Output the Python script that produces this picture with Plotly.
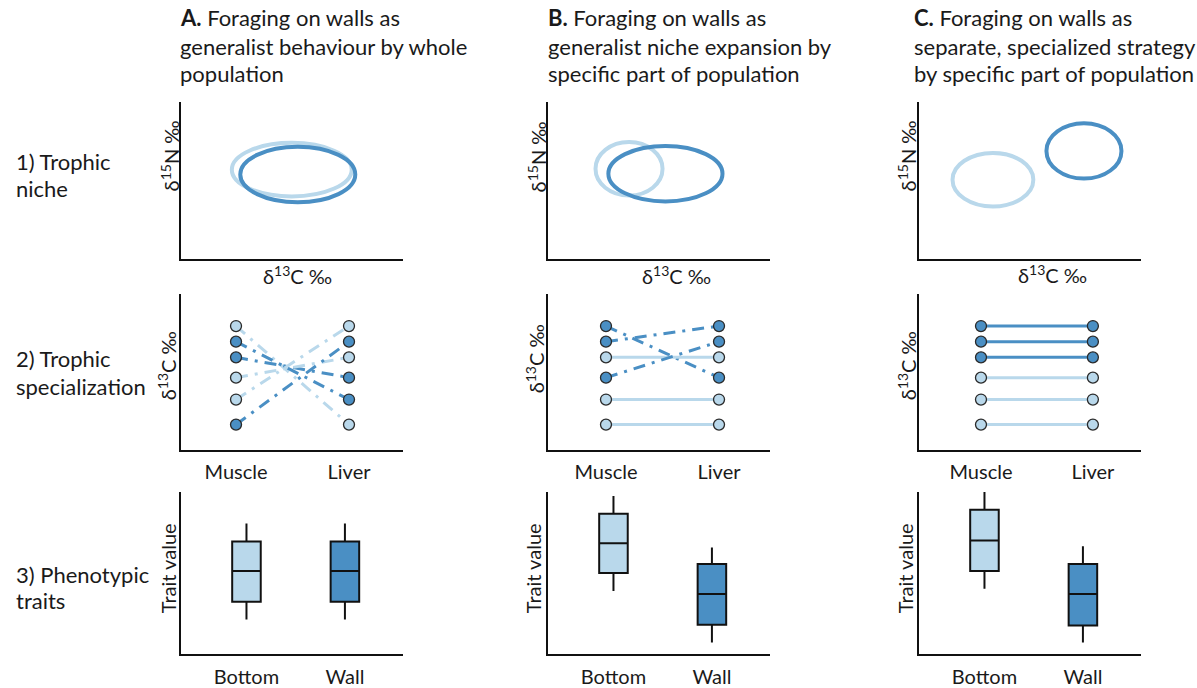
import plotly.graph_objects as go

W, H = 1197, 688
LIGHT = "#b9d8eb"
DARK = "#4a8fc4"
FONT = "Lato"
TXT = "#1a1a1a"

# ---------------- data ----------------
col_titles = [
    ["<b>A.</b> Foraging on walls as", "generalist behaviour by whole", "population"],
    ["<b>B.</b> Foraging on walls as", "generalist niche expansion by", "specific part of population"],
    ["<b>C.</b> Foraging on walls as", "separate, specialized strategy", "by specific part of population"],
]
row_titles = [["1) Trophic", "niche"], ["2) Trophic", "specialization"], ["3) Phenotypic", "traits"]]

# Row 1: trophic niche ellipses (centre x, centre y, radius x, radius y) per column
niche_light_cx = [4.99, 3.65, 3.33]
niche_light_cy = [5.70, 5.75, 5.06]
niche_light_rx = [2.70, 1.51, 1.82]
niche_light_ry = [1.70, 1.70, 1.70]
niche_dark_cx = [5.26, 5.29, 7.43]
niche_dark_cy = [5.39, 5.44, 6.89]
niche_dark_rx = [2.59, 2.57, 1.69]
niche_dark_ry = [1.76, 1.76, 1.76]

# Row 2: individual d13C values, muscle vs liver
tissues = ["Muscle", "Liver"]
muscle_vals = [7.95, 6.95, 5.95, 4.65, 3.25, 1.65]
liver_A = [1.65, 3.25, 4.65, 5.95, 7.95, 6.95]
group_A = ["light", "dark", "dark", "light", "light", "dark"]
liver_B = [4.65, 7.95, 5.95, 6.95, 3.25, 1.65]
group_B = ["dark", "dark", "light", "dark", "light", "light"]
liver_C = [7.95, 6.95, 5.95, 4.65, 3.25, 1.65]
group_C = ["dark", "dark", "dark", "light", "light", "light"]
liver_vals = [liver_A, liver_B, liver_C]
groups = [group_A, group_B, group_C]
style_A = ["dashdot"] * 6
style_B = ["dashdot", "dashdot", "solid", "dashdot", "solid", "solid"]
style_C = ["solid"] * 6
styles = [style_A, style_B, style_C]

# Row 3: trait boxplots (Bottom, Wall) per column
habitats = ["Bottom", "Wall"]
box_lower = [[2.20, 2.20], [4.02, 0.75], [4.15, 0.75]]
box_q1 = [[3.33, 3.33], [5.15, 1.88], [5.28, 1.82]]
box_median = [[5.28, 5.28], [7.04, 3.83], [7.22, 3.83]]
box_q3 = [[7.16, 7.16], [8.92, 5.72], [9.17, 5.72]]
box_upper = [[8.29, 8.29], [10.05, 6.78], [10.30, 6.85]]

# ---------------- layout geometry (pixels) ----------------
col_x = [(181, 403), (548, 770), (919, 1141)]
row_y = [(103, 262), (297, 455), (497, 661)]
row2_xrange = [[0.513, 2.478], [0.487, 2.451], [0.446, 2.43]]
row3_xrange = [0.335, 2.59]

def fx(px):
    return px / W

def fy(py):
    return 1 - py / H

fig = go.Figure()
layout = dict(
    width=W, height=H, margin=dict(l=0, r=0, t=0, b=0),
    paper_bgcolor="white", plot_bgcolor="white", showlegend=False,
    font=dict(family=FONT, color=TXT, size=20),
)

annotations = []
shapes = []

def axis_common():
    return dict(showline=True, linecolor="#111", linewidth=2, showgrid=False,
                zeroline=False, ticks="", fixedrange=True)

for r in range(3):
    for c in range(3):
        k = r * 3 + c + 1
        xa = "xaxis" if k == 1 else f"xaxis{k}"
        ya = "yaxis" if k == 1 else f"yaxis{k}"
        xref = "x" if k == 1 else f"x{k}"
        yref = "y" if k == 1 else f"y{k}"
        x0, x1 = col_x[c]
        yt, yb = row_y[r]
        xd = axis_common()
        xd.update(domain=[fx(x0), fx(x1)], anchor=yref)
        yd = axis_common()
        yd.update(domain=[fy(yb), fy(yt)], anchor=xref, showticklabels=False)
        if r == 0:
            xd.update(range=[0, 10], showticklabels=False)
            yd.update(range=[0, 10])
        elif r == 1:
            xd.update(range=row2_xrange[c], tickvals=[1, 2], ticktext=tissues,
                      tickfont=dict(size=20, family=FONT, color=TXT), ticklabelstandoff=3)
            yd.update(range=[0, 10])
        else:
            xd.update(range=row3_xrange, tickvals=[1, 2], ticktext=habitats,
                      tickfont=dict(size=20, family=FONT, color=TXT), ticklabelstandoff=4)
            yd.update(range=[0, 10.3])
        layout[xa] = xd
        layout[ya] = yd

        if r == 0:
            for cx, cy, rx, ry, col in [
                (niche_light_cx[c], niche_light_cy[c], niche_light_rx[c], niche_light_ry[c], LIGHT),
                (niche_dark_cx[c], niche_dark_cy[c], niche_dark_rx[c], niche_dark_ry[c], DARK),
            ]:
                shapes.append(dict(type="circle", xref=xref, yref=yref,
                                   x0=cx - rx, x1=cx + rx, y0=cy - ry, y1=cy + ry,
                                   line=dict(color=col, width=4), layer="above"))
        elif r == 1:
            mx, my, mc = [], [], []
            for i in range(6):
                g = groups[c][i]
                colr = DARK if g == "dark" else LIGHT
                dash = "12px,7px,3px,7px" if styles[c][i] == "dashdot" else "solid"
                fig.add_trace(go.Scatter(
                    x=[1, 2], y=[muscle_vals[i], liver_vals[c][i]], mode="lines",
                    line=dict(color=colr, width=3, dash=dash),
                    xaxis=xref, yaxis=yref, hoverinfo="skip"))
                mx += [1, 2]
                my += [muscle_vals[i], liver_vals[c][i]]
                mc += [colr, colr]
            fig.add_trace(go.Scatter(
                x=mx, y=my, mode="markers",
                marker=dict(size=11, color=mc, line=dict(color="#2a2a2a", width=1.3)),
                xaxis=xref, yaxis=yref, cliponaxis=False))
        else:
            for j in range(2):
                colr = LIGHT if j == 0 else DARK
                fig.add_trace(go.Box(
                    x=[j + 1], q1=[box_q1[c][j]], median=[box_median[c][j]],
                    q3=[box_q3[c][j]], lowerfence=[box_lower[c][j]],
                    upperfence=[box_upper[c][j]], width=0.29, whiskerwidth=0,
                    fillcolor=colr, line=dict(color="#111", width=2),
                    xaxis=xref, yaxis=yref, hoverinfo="skip", boxpoints=False))

# Column titles
title_x = [178, 546, 912]
title_y = [18, 47, 74]
for c in range(3):
    for li, line in enumerate(col_titles[c]):
        annotations.append(dict(text=line, x=fx(title_x[c]), y=fy(title_y[li]),
                                xref="paper", yref="paper", xanchor="left", yanchor="middle",
                                showarrow=False, font=dict(size=22, family=FONT, color=TXT)))

# Row titles
row_title_y = [(163, 190), (362, 390), (580, 607)]
for r in range(3):
    for li, line in enumerate(row_titles[r]):
        annotations.append(dict(text=line, x=fx(14), y=fy(row_title_y[r][li]),
                                xref="paper", yref="paper", xanchor="left", yanchor="middle",
                                showarrow=False, font=dict(size=22, family=FONT, color=TXT)))

# Axis labels
ylab_text = ["δ<sup>15</sup>N ‰", "δ<sup>13</sup>C ‰", "Trait value"]
ylab_pos = [
    [(170, 158), (537, 159), (907, 158)],
    [(167, 370), (535, 363), (907, 370)],
    [(168, 574), (533, 574), (905, 574)],
]
for r in range(3):
    for c in range(3):
        px, py = ylab_pos[r][c]
        annotations.append(dict(text=ylab_text[r], x=fx(px), y=fy(py), xref="paper", yref="paper",
                                xanchor="center", yanchor="middle", textangle=-90,
                                showarrow=False, font=dict(size=20, family=FONT, color=TXT)))
xlab_pos = [(297, 278), (676, 278), (1052, 277)]
for c in range(3):
    px, py = xlab_pos[c]
    annotations.append(dict(text="δ<sup>13</sup>C ‰", x=fx(px), y=fy(py), xref="paper", yref="paper",
                            xanchor="center", yanchor="middle", showarrow=False,
                            font=dict(size=20, family=FONT, color=TXT)))

layout["annotations"] = annotations
layout["shapes"] = shapes
fig.update_layout(**layout)
fig.write_html("out.html", config={"displayModeBar": False, "staticPlot": True},
               post_script="document.body.style.margin='0';document.body.style.overflow='hidden';")
